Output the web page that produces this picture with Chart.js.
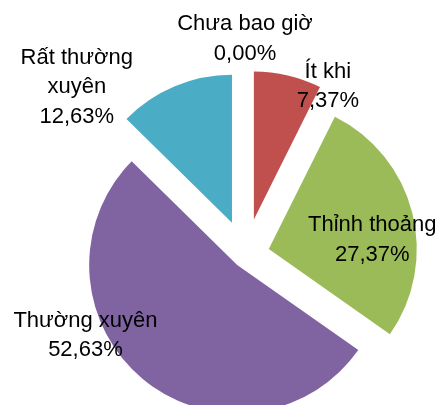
<!DOCTYPE html>
<html lang="vi">
<head>
    <meta charset="UTF-8">
    <title>Mức độ</title>
    <script src="https://cdn.jsdelivr.net/npm/chart.js"></script>
    <style>
        body { margin: 0; background: #fff; }
        canvas { display: block; }
    </style>
</head>
<body>
    <canvas id="pieChart" width="440" height="405"></canvas>

    <script>
        // data
        const categories = ['Chưa bao giờ', 'Ít khi', 'Thỉnh thoảng', 'Thường xuyên', ['Rất thường', 'xuyên']];
        const percents = [0.00, 7.37, 27.37, 52.63, 12.63];
        const sliceColors = ['#F79646', '#C0504D', '#9BBB59', '#8064A2', '#4BACC6'];

        // how far each slice is pulled out, and label nudges
        const explodeBy = [0, 36.5, 24, 13, 35];
        const labelNudge = [[-0.5, -70], [40, 9], [-40, 25], [-57, -45], [-98, -1]];
        const lineHeight = 29.5;

        const explode = {
            id: 'explode',
            beforeDatasetDraw(chart, args) {
                const ctx = chart.ctx;
                args.meta.data.forEach((arc, i) => {
                    const mid = (arc.startAngle + arc.endAngle) / 2;
                    ctx.save();
                    ctx.translate(Math.cos(mid) * explodeBy[i], Math.sin(mid) * explodeBy[i]);
                    arc.draw(ctx);
                    ctx.restore();
                });
                return false;
            }
        };

        const pieLabels = {
            id: 'pieLabels',
            afterDatasetsDraw(chart) {
                const ctx = chart.ctx;
                const meta = chart.getDatasetMeta(0);
                ctx.save();
                ctx.font = '22px "Liberation Sans", Arial, sans-serif';
                ctx.fillStyle = '#000';
                ctx.textAlign = 'center';
                ctx.textBaseline = 'alphabetic';
                meta.data.forEach((arc, i) => {
                    const mid = (arc.startAngle + arc.endAngle) / 2;
                    const r = arc.outerRadius + explodeBy[i];
                    const x = arc.x + Math.cos(mid) * r + labelNudge[i][0];
                    const y = arc.y + Math.sin(mid) * r + labelNudge[i][1];
                    const name = categories[i];
                    const lines = (Array.isArray(name) ? name : [name])
                        .concat(percents[i].toFixed(2).replace('.', ',') + '%');
                    lines.forEach((t, k) => {
                        const by = y + (k - (lines.length - 1) / 2) * lineHeight + 8;
                        ctx.fillText(t, x, by);
                    });
                });
                ctx.restore();
            }
        };

        new Chart(document.getElementById('pieChart'), {
            type: 'pie',
            data: {
                labels: categories,
                datasets: [{
                    data: percents,
                    backgroundColor: sliceColors,
                    borderWidth: 0
                }]
            },
            options: {
                responsive: false,
                animation: false,
                radius: 148,
                layout: { padding: { left: 51, right: 0, top: 105, bottom: 0 } },
                plugins: {
                    legend: { display: false },
                    tooltip: { enabled: false }
                }
            },
            plugins: [explode, pieLabels]
        });
    </script>
</body>
</html>
